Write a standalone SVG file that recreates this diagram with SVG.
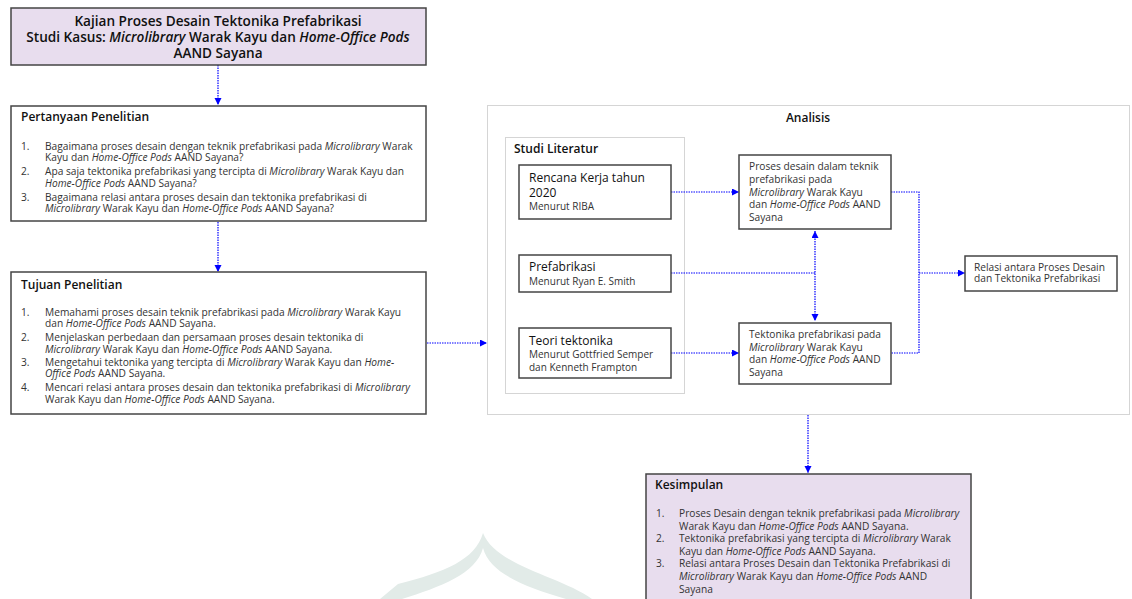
<svg xmlns="http://www.w3.org/2000/svg" width="1132" height="599" viewBox="0 0 1132 599">
<defs>
<marker id="ah" markerUnits="userSpaceOnUse" markerWidth="8" markerHeight="8" refX="7" refY="3.5" orient="auto-start-reverse">
<path d="M0,0 L7,3.5 L0,7 Z" fill="#0000ff"/>
</marker>
<style>
text{font-family:"Open Sans","Noto Sans","Liberation Sans",sans-serif;fill:#333}
.box{fill:#fff;stroke:#444;stroke-width:1.5}
.pbox{fill:#e8ddee;stroke:#444;stroke-width:1.5}
.grp{fill:none;stroke:#aaa;stroke-width:1;stroke-dasharray:1 1}
.t{font-size:13.6px;font-weight:600;fill:#111}
.h{font-size:12px;font-weight:600;fill:#111}
.b{font-size:10.2px}
.s{font-size:10.2px}
.sub{font-size:10px}
.m{font-size:12px;fill:#111}
.i{font-style:italic}
.c{fill:none;stroke:#0000ff;stroke-width:1.2;stroke-dasharray:1.5 1}
.ca{fill:none;stroke:#0000ff;stroke-width:1.2;stroke-dasharray:1.5 1;marker-end:url(#ah)}
</style>
</defs>
<rect width="1132" height="599" fill="#fff"/>
<path d="M483,533 C475,560 445,572 398,584 L380,599 L402,599 C440,587 476,574 483,548 C490,574 526,587 566,599 L592,599 C560,576 496,566 483,533 Z" fill="#e2ebe8"/>

<g id="analisis">
<rect class="grp" x="487.5" y="105.5" width="642" height="309"/>
<text class="h" x="808" y="122" text-anchor="middle">Analisis</text>
</g>
<g id="studi-literatur">
<rect class="grp" x="505.5" y="137.5" width="179" height="256"/>
<text class="h" x="514" y="153">Studi Literatur</text>
</g>

<g id="connectors">
<line class="ca" x1="218" y1="65" x2="218" y2="105"/>
<line class="ca" x1="218" y1="222" x2="218" y2="272"/>
<line class="ca" x1="427" y1="343" x2="487" y2="343"/>
<line class="ca" x1="671" y1="192" x2="739" y2="192"/>
<line class="ca" x1="671" y1="353" x2="739" y2="353"/>
<line class="c" x1="671" y1="273" x2="815" y2="273"/>
<line class="c" x1="815" y1="231" x2="815" y2="321" marker-start="url(#ah)" marker-end="url(#ah)"/>
<polyline class="c" points="891,192 919,192 919,353 891,353"/>
<line class="ca" x1="919" y1="273" x2="965" y2="273"/>
<line class="ca" x1="808" y1="415" x2="808" y2="473"/>
</g>

<g id="judul">
<rect class="pbox" x="11" y="8" width="415" height="57"/>
<text class="t" text-anchor="middle"><tspan x="218" y="26">Kajian Proses Desain Tektonika Prefabrikasi</tspan><tspan x="218" y="42">Studi Kasus: <tspan class="i">Microlibrary</tspan> Warak Kayu dan <tspan class="i">Home-Office Pods</tspan></tspan><tspan x="218" y="58">AAND Sayana</tspan></text>
</g>

<g id="pertanyaan">
<rect class="box" x="11" y="106" width="415" height="115"/>
<text class="h" x="21" y="121">Pertanyaan Penelitian</text>
<text class="b"><tspan x="21" y="149.5">1.</tspan><tspan x="21" y="175">2.</tspan><tspan x="21" y="200.5">3.</tspan></text>
<text class="b"><tspan x="45" y="149.5">Bagaimana proses desain dengan teknik prefabrikasi pada <tspan class="i">Microlibrary</tspan> Warak</tspan><tspan x="45" y="161">Kayu dan <tspan class="i">Home-Office Pods</tspan> AAND Sayana?</tspan><tspan x="45" y="175">Apa saja tektonika prefabrikasi yang tercipta di <tspan class="i">Microlibrary</tspan> Warak Kayu dan</tspan><tspan x="45" y="186.5"><tspan class="i">Home-Office Pods</tspan> AAND Sayana?</tspan><tspan x="45" y="200.5">Bagaimana relasi antara proses desain dan tektonika prefabrikasi di</tspan><tspan x="45" y="212"><tspan class="i">Microlibrary</tspan> Warak Kayu dan <tspan class="i">Home-Office Pods</tspan> AAND Sayana?</tspan></text>
</g>

<g id="tujuan">
<rect class="box" x="11" y="272" width="415" height="142"/>
<text class="h" x="21" y="289">Tujuan Penelitian</text>
<text class="b"><tspan x="21" y="315.5">1.</tspan><tspan x="21" y="341">2.</tspan><tspan x="21" y="365.5">3.</tspan><tspan x="21" y="391">4.</tspan></text>
<text class="b"><tspan x="45" y="315.5">Memahami proses desain teknik prefabrikasi pada <tspan class="i">Microlibrary</tspan> Warak Kayu</tspan><tspan x="45" y="327">dan <tspan class="i">Home-Office Pods</tspan> AAND Sayana.</tspan><tspan x="45" y="341">Menjelaskan perbedaan dan persamaan proses desain tektonika di</tspan><tspan x="45" y="352.5"><tspan class="i">Microlibrary</tspan> Warak Kayu dan <tspan class="i">Home-Office Pods</tspan> AAND Sayana.</tspan><tspan x="45" y="365.5">Mengetahui tektonika yang tercipta di <tspan class="i">Microlibrary</tspan> Warak Kayu dan <tspan class="i">Home-</tspan></tspan><tspan x="45" y="377"><tspan class="i">Office Pods</tspan> AAND Sayana.</tspan><tspan x="45" y="391">Mencari relasi antara proses desain dan tektonika prefabrikasi di <tspan class="i">Microlibrary</tspan></tspan><tspan x="45" y="403">Warak Kayu dan <tspan class="i">Home-Office Pods</tspan> AAND Sayana.</tspan></text>
</g>

<g id="rencana">
<rect class="box" x="519" y="165" width="152" height="54"/>
<text class="m"><tspan x="529" y="182">Rencana Kerja tahun</tspan><tspan x="529" y="197">2020</tspan></text>
<text class="sub" x="529" y="209.5">Menurut RIBA</text>
</g>
<g id="prefabrikasi">
<rect class="box" x="519" y="255" width="152" height="37"/>
<text class="m" x="529" y="271">Prefabrikasi</text>
<text class="sub" x="529" y="285">Menurut Ryan E. Smith</text>
</g>
<g id="teori">
<rect class="box" x="519" y="328" width="152" height="50"/>
<text class="m" x="529" y="344.5">Teori tektonika</text>
<text class="sub"><tspan x="529" y="358">Menurut Gottfried Semper</tspan><tspan x="529" y="371">dan Kenneth Frampton</tspan></text>
</g>

<g id="proses-desain">
<rect class="box" x="739" y="155" width="152" height="74"/>
<text class="s"><tspan x="749" y="170">Proses desain dalam teknik</tspan><tspan x="749" y="183">prefabrikasi pada</tspan><tspan x="749" y="195.5"><tspan class="i">Microlibrary</tspan> Warak Kayu</tspan><tspan x="749" y="208">dan <tspan class="i">Home-Office Pods</tspan> AAND</tspan><tspan x="749" y="221">Sayana</tspan></text>
</g>
<g id="tektonika">
<rect class="box" x="739" y="323" width="152" height="61"/>
<text class="s"><tspan x="749" y="338">Tektonika prefabrikasi pada</tspan><tspan x="749" y="350.5"><tspan class="i">Microlibrary</tspan> Warak Kayu</tspan><tspan x="749" y="363">dan <tspan class="i">Home-Office Pods</tspan> AAND</tspan><tspan x="749" y="376">Sayana</tspan></text>
</g>
<g id="relasi">
<rect class="box" x="965" y="256" width="152" height="35"/>
<text class="s"><tspan x="974" y="270.5">Relasi antara Proses Desain</tspan><tspan x="974" y="282">dan Tektonika Prefabrikasi</tspan></text>
</g>

<g id="kesimpulan">
<rect class="pbox" x="646" y="474" width="325" height="140"/>
<text class="h" x="655" y="489">Kesimpulan</text>
<text class="b"><tspan x="656" y="517">1.</tspan><tspan x="656" y="542">2.</tspan><tspan x="656" y="567">3.</tspan></text>
<text class="b"><tspan x="679" y="517">Proses Desain dengan teknik prefabrikasi pada <tspan class="i">Microlibrary</tspan></tspan><tspan x="679" y="529.5">Warak Kayu dan <tspan class="i">Home-Office Pods</tspan> AAND Sayana.</tspan><tspan x="679" y="542">Tektonika prefabrikasi yang tercipta di <tspan class="i">Microlibrary</tspan> Warak</tspan><tspan x="679" y="554.5">Kayu dan <tspan class="i">Home-Office Pods</tspan> AAND Sayana.</tspan><tspan x="679" y="567">Relasi antara Proses Desain dan Tektonika Prefabrikasi di</tspan><tspan x="679" y="580"><tspan class="i">Microlibrary</tspan> Warak Kayu dan <tspan class="i">Home-Office Pods</tspan> AAND</tspan><tspan x="679" y="593">Sayana</tspan></text>
</g>
</svg>
